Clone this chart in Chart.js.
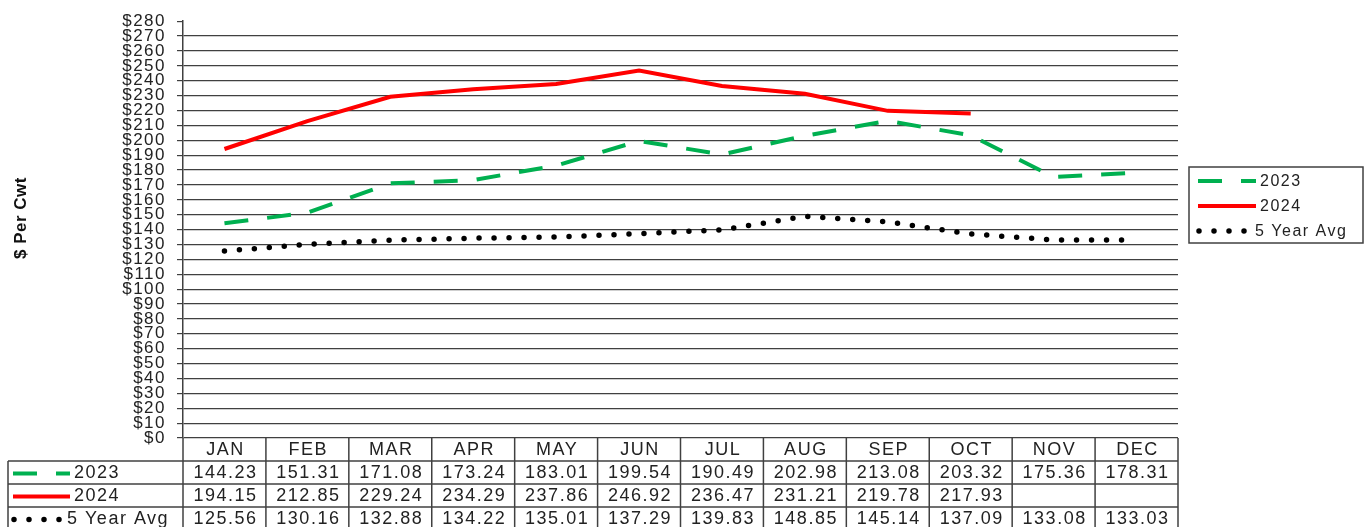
<!DOCTYPE html>
<html>
<head>
<meta charset="utf-8">
<script src="https://cdn.jsdelivr.net/npm/chart.js@4/dist/chart.umd.min.js"></script>
<style>
  html, body { margin: 0; padding: 0; background: #fff; }
  #wrap { width: 1372px; height: 527px; }
</style>
</head>
<body>
<div id="wrap"><canvas id="chart"></canvas></div>
<script>
const months = ['JAN', 'FEB', 'MAR', 'APR', 'MAY', 'JUN', 'JUL', 'AUG', 'SEP', 'OCT', 'NOV', 'DEC'];
const y2023 = [144.23, 151.31, 171.08, 173.24, 183.01, 199.54, 190.49, 202.98, 213.08, 203.32, 175.36, 178.31];
const y2024 = [194.15, 212.85, 229.24, 234.29, 237.86, 246.92, 236.47, 231.21, 219.78, 217.93, null, null];
const avg5 = [125.56, 130.16, 132.88, 134.22, 135.01, 137.29, 139.83, 148.85, 145.14, 137.09, 133.08, 133.03];
const yMin = 0, yMax = 280, yStep = 10;

const FONT = 'Arial, "Liberation Sans", sans-serif';
const LINE = '#404040';
Chart.defaults.font.family = FONT;

// draws a short sample of a dataset's line (used in legend box and table)
function sample(ctx, ds, x0, x1, y) {
  ctx.save();
  ctx.strokeStyle = ds.borderColor;
  ctx.lineWidth = ds.borderWidth;
  ctx.lineCap = ds.borderCapStyle || 'butt';
  ctx.setLineDash(ds.borderDash || []);
  ctx.beginPath();
  ctx.moveTo(x0, y);
  ctx.lineTo(x1, y);
  ctx.stroke();
  ctx.restore();
}

function seg(ctx, x0, y0, x1, y1) {
  ctx.beginPath();
  ctx.moveTo(x0, y0);
  ctx.lineTo(x1, y1);
  ctx.stroke();
}

const extras = {
  id: 'extras',
  beforeDraw(chart) {
    chart.ctx.letterSpacing = '1.5px';
  },
  afterDraw(chart) {
    const ctx = chart.ctx;
    const a = chart.chartArea;
    const x = chart.scales.x;
    const colW = (a.right - a.left) / months.length;
    const rowH = 23;
    const top = a.bottom;
    const labelLeft = 8;
    const dsets = chart.data.datasets;

    ctx.save();
    ctx.strokeStyle = LINE;
    ctx.lineWidth = 1.5;
    // table grid
    for (let i = 0; i <= months.length; i++) {
      const px = a.left + i * colW;
      seg(ctx, px, top, px, chart.height);
    }
    for (let r = 1; r <= dsets.length; r++) {
      seg(ctx, labelLeft, top + r * rowH, a.right, top + r * rowH);
    }
    seg(ctx, labelLeft, top + rowH, labelLeft, chart.height);

    ctx.fillStyle = '#222';
    ctx.font = '18px ' + FONT;
    ctx.textBaseline = 'middle';
    ctx.textAlign = 'center';
    months.forEach((m, i) => ctx.fillText(m, x.getPixelForValue(i) + 1, top + rowH / 2 + 1));

    dsets.forEach((ds, r) => {
      const cy = top + rowH * (r + 1) + rowH / 2 + 1;
      const dotted = ds.borderCapStyle === 'round';
      sample(ctx, ds, labelLeft + (dotted ? 6 : 5), labelLeft + (dotted ? 52 : 62), cy);
      ctx.textAlign = 'left';
      ctx.fillText(ds.label, labelLeft + (dotted ? 59 : 66), cy);
      ctx.textAlign = 'center';
      ds.data.forEach((v, i) => {
        if (v == null) return;
        ctx.fillText(v.toFixed(2), x.getPixelForValue(i) + 1, cy);
      });
    });

    // legend box
    const lx = 1189, ly = 167, lw = 174, lh = 76;
    ctx.strokeRect(lx, ly, lw, lh);
    ctx.font = '16px ' + FONT;
    dsets.forEach((ds, r) => {
      const cy = ly + 14 + r * 25;
      const dotted = ds.borderCapStyle === 'round';
      sample(ctx, ds, lx + (dotted ? 10 : 9), lx + (dotted ? 56 : 67), cy);
      ctx.textAlign = 'left';
      ctx.fillText(ds.label, lx + (dotted ? 66 : 71), cy + 1);
    });

    // y axis title
    ctx.translate(21, 218);
    ctx.rotate(-Math.PI / 2);
    ctx.letterSpacing = '0.5px';
    ctx.font = 'bold 17px ' + FONT;
    ctx.textAlign = 'center';
    ctx.fillStyle = '#111';
    ctx.fillText('$ Per Cwt', 0, 0);
    ctx.restore();
  }
};

new Chart(document.getElementById('chart'), {
  type: 'line',
  data: {
    labels: months,
    datasets: [
      {
        label: '2023',
        data: y2023,
        borderColor: '#00B050',
        borderWidth: 4,
        borderDash: [24, 19],
        pointRadius: 0,
        tension: 0
      },
      {
        label: '2024',
        data: y2024,
        borderColor: '#FF0000',
        borderWidth: 4,
        pointRadius: 0,
        tension: 0
      },
      {
        label: '5 Year Avg',
        data: avg5,
        borderColor: '#000000',
        borderWidth: 5.5,
        borderDash: [0, 15],
        borderCapStyle: 'round',
        pointRadius: 0,
        tension: 0
      }
    ]
  },
  options: {
    responsive: true,
    maintainAspectRatio: false,
    animation: false,
    layout: { padding: { left: 0, right: 194, top: 16, bottom: 89 } },
    plugins: {
      legend: { display: false },
      tooltip: { enabled: false }
    },
    scales: {
      x: { display: false, offset: true },
      y: {
        min: yMin,
        max: yMax,
        afterFit(s) { s.width = 183; },
        border: { display: true, color: LINE, width: 1.5 },
        grid: {
          color: c => (c.tick && c.tick.value === yMax) ? 'rgba(0,0,0,0)' : LINE,
          tickColor: LINE,
          tickLength: 6,
          lineWidth: 1.2
        },
        ticks: {
          stepSize: yStep,
          autoSkip: false,
          padding: 11,
          color: '#222',
          font: { size: 17 },
          callback: v => '$' + v
        }
      }
    }
  },
  plugins: [extras]
});
</script>
</body>
</html>
